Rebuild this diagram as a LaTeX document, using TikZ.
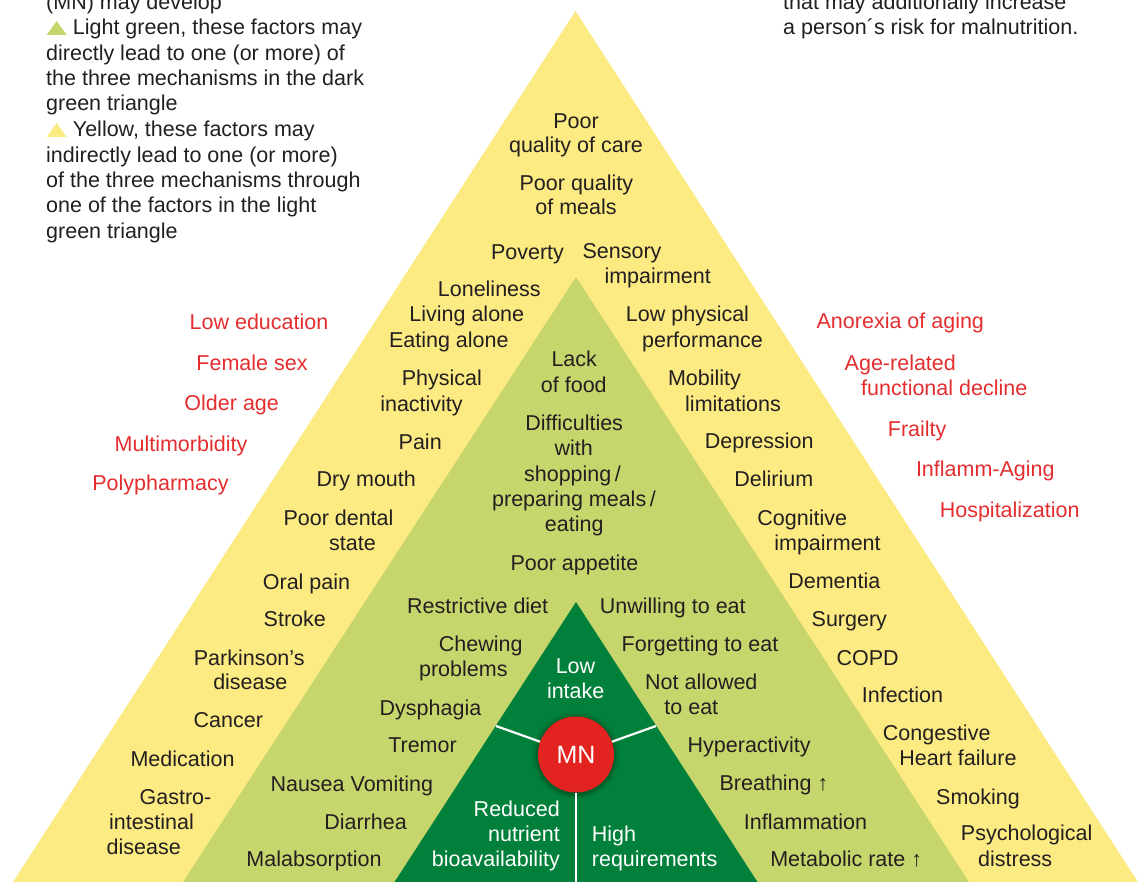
\documentclass[tikz,border=0pt]{standalone}
\usepackage{fontspec}
\setmainfont{Liberation Sans}
\definecolor{yel}{HTML}{FCEA82}
\definecolor{lgr}{HTML}{C6D66C}
\definecolor{dgr}{HTML}{00803A}
\definecolor{mnred}{HTML}{E3231F}
\definecolor{txt}{HTML}{231F20}
\definecolor{rtxt}{HTML}{E42D2E}
\newcommand\fs{\fontsize{21.5}{25.5}\selectfont}
\newcommand\lbl[5]{\node[#1] (#2) at (#3,#4) {#5};}
\tikzset{
  t/.style={font=\fs, text=txt, inner sep=0pt, anchor=base},
  tl/.style={t, anchor=base west},
  tr/.style={t, anchor=base east},
  rt/.style={t, text=rtxt},
  wt/.style={t, text=white},
  wtl/.style={tl, text=white},
  wtr/.style={tr, text=white},
  wline/.style={draw=white, line width=2.2pt},
}
\begin{document}
\begin{tikzpicture}[x=1pt,y=-1pt]
\useasboundingbox (0,0) rectangle (1137,882);
% triangles
\coordinate (ya) at (575.5,11);
\coordinate (yl) at (13,882);
\coordinate (yr) at (1138,882);
\coordinate (ga) at (576,277);
\coordinate (gl) at (183,882);
\coordinate (gr) at (969,882);
\coordinate (da) at (576,602);
\coordinate (dl) at (394.5,882);
\coordinate (dr) at (757.5,882);
\fill[yel] (ya) -- (yl) -- (yr) -- cycle;
\fill[lgr] (ga) -- (gl) -- (gr) -- cycle;
\fill[dgr] (da) -- (dl) -- (dr) -- cycle;
% legend triangles
\fill[lgr] (46.7,35) -- (66.7,35) -- (56.7,21) -- cycle;
\fill[yel] (46.7,137) -- (66.7,137) -- (56.7,123) -- cycle;
% Y lines and MN circle
\coordinate (wl) at (496,726);
\coordinate (wr) at (656,726);
\coordinate (wb) at (576,882);
\foreach \r/\o in {44/0.04,42/0.06,40.5/0.08,39.5/0.1}
  \fill[black,opacity=\o] (576,755.5) circle (\r);
\node[circle, fill=mnred, minimum size=76pt, inner sep=0pt, text=white,
      font=\fontsize{25}{28}\selectfont] (mn) at (576,754.5) {MN};
\draw[wline] (mn) -- (wl);
\draw[wline] (mn) -- (wr);
\draw[wline] (mn) -- (wb);
% legend left
\lbl{tl}{L1}{46}{10}{(MN) may develop}
\lbl{tl}{L2}{72.7}{35}{Light green, these factors may}
\lbl{tl}{L3}{46}{60.5}{directly lead to one (or more) of}
\lbl{tl}{L4}{46}{86}{the three mechanisms in the dark}
\lbl{tl}{L5}{46}{111}{green triangle}
\lbl{tl}{L6}{72.7}{137}{Yellow, these factors may}
\lbl{tl}{L7}{46}{162.5}{indirectly lead to one (or more)}
\lbl{tl}{L8}{46}{188}{of the three mechanisms through}
\lbl{tl}{L9}{46}{213}{one of the factors in the light}
\lbl{tl}{L10}{46}{238.7}{green triangle}
% legend right
\lbl{tl}{R1}{783}{10}{that may additionally increase}
\lbl{tl}{R2}{783}{35}{a person´s risk for malnutrition.}
% yellow triangle, top
\lbl{t}{y1}{576}{128.3}{Poor}
\lbl{t}{y2}{576}{152.7}{quality of care}
\lbl{t}{y3}{576.4}{191}{Poor quality}
\lbl{t}{y4}{576}{215}{of meals}
\lbl{t}{y5}{527.5}{259.3}{Poverty}
\lbl{t}{y6}{622}{259}{Sensory}
\lbl{t}{y7}{657.7}{283.3}{impairment}
\lbl{t}{y8}{489.3}{297}{Loneliness}
\lbl{t}{y9}{466.8}{321.7}{Living alone}
\lbl{t}{y10}{448.8}{347.7}{Eating alone}
\lbl{t}{y11}{687.5}{321.7}{Low physical}
\lbl{t}{y12}{702.5}{347.7}{performance}
\lbl{t}{y13}{441.8}{385.7}{Physical}
\lbl{t}{y14}{421.5}{411.7}{inactivity}
\lbl{t}{y15}{704.5}{385.7}{Mobility}
\lbl{t}{y16}{733}{411.7}{limitations}
\lbl{t}{y17}{420.2}{449}{Pain}
\lbl{t}{y18}{759.2}{448.3}{Depression}
\lbl{t}{y19}{366.3}{486.7}{Dry mouth}
\lbl{t}{y20}{773.8}{486}{Delirium}
\lbl{t}{y21}{338.5}{525}{Poor dental}
\lbl{t}{y22}{352.5}{550.7}{state}
\lbl{t}{y23}{802.2}{525}{Cognitive}
\lbl{t}{y24}{827.5}{550}{impairment}
\lbl{t}{y25}{306.5}{589}{Oral pain}
\lbl{t}{y26}{834.3}{588.3}{Dementia}
\lbl{t}{y27}{294.8}{626.7}{Stroke}
\lbl{t}{y28}{849.3}{626.7}{Surgery}
\lbl{t}{y29}{249.2}{665}{Parkinson’s}
\lbl{t}{y30}{250.3}{689.3}{disease}
\lbl{t}{y31}{867.7}{665}{COPD}
\lbl{t}{y32}{902.5}{702.7}{Infection}
\lbl{t}{y33}{228.3}{727.3}{Cancer}
\lbl{t}{y34}{936.7}{740.7}{Congestive}
\lbl{t}{y35}{958}{765}{Heart failure}
\lbl{t}{y36}{182.5}{766}{Medication}
\lbl{t}{y37}{175.5}{804}{Gastro-}
\lbl{t}{y38}{151.5}{829}{intestinal}
\lbl{t}{y39}{143.7}{854.3}{disease}
\lbl{t}{y40}{978}{804}{Smoking}
\lbl{t}{y41}{1026.7}{840.7}{Psychological}
\lbl{t}{y42}{1015.2}{866}{distress}
% light green triangle
\lbl{t}{g1}{574.2}{366.7}{Lack}
\lbl{t}{g2}{573.8}{392.7}{of food}
\lbl{t}{g3}{574.2}{430}{Difficulties}
\lbl{t}{g4}{573.8}{455}{with}
\lbl{t}{g5}{572.5}{481}{shopping\,/}
\lbl{t}{g6}{574}{506.7}{preparing meals\,/}
\lbl{t}{g7}{574.2}{531.7}{eating}
\lbl{t}{g8}{574.5}{570}{Poor appetite}
\lbl{t}{g9}{477.7}{613.3}{Restrictive diet}
\lbl{t}{g10}{672.8}{613.3}{Unwilling to eat}
\lbl{t}{g11}{480.7}{651.7}{Chewing}
\lbl{t}{g12}{463.3}{676.7}{problems}
\lbl{t}{g13}{700}{651.7}{Forgetting to eat}
\lbl{t}{g14}{701.3}{689}{Not allowed}
\lbl{t}{g15}{691.3}{714.3}{to eat}
\lbl{t}{g16}{430.5}{715}{Dysphagia}
\lbl{t}{g17}{422.5}{752.7}{Tremor}
\lbl{t}{g18}{749.2}{752.7}{Hyperactivity}
\lbl{t}{g19}{351.8}{791}{Nausea Vomiting}
\lbl{t}{g20}{774}{790}{Breathing ↑}
\lbl{t}{g21}{365.5}{829}{Diarrhea}
\lbl{t}{g22}{805.5}{829}{Inflammation}
\lbl{t}{g23}{314}{866}{Malabsorption}
\lbl{t}{g24}{846.2}{866}{Metabolic rate ↑}
% red risk factors
\lbl{rt}{r1}{259}{329.3}{Low education}
\lbl{rt}{r2}{252}{370}{Female sex}
\lbl{rt}{r3}{231.7}{410}{Older age}
\lbl{rt}{r4}{181}{451.7}{Multimorbidity}
\lbl{rt}{r5}{160.5}{490.7}{Polypharmacy}
\lbl{rt}{r6}{900.3}{329}{Anorexia of aging}
\lbl{rt}{r7}{900.3}{370}{Age-related}
\lbl{rt}{r8}{944.2}{395}{functional decline}
\lbl{rt}{r9}{917.2}{436.7}{Frailty}
\lbl{rt}{r10}{985.3}{476.7}{Inflamm-Aging}
\lbl{rt}{r11}{1009.7}{517.3}{Hospitalization}
% dark green triangle
\lbl{wt}{d1}{575.5}{673.3}{Low}
\lbl{wt}{d2}{575.7}{698.3}{intake}
\lbl{wtr}{d3}{560}{816.7}{Reduced}
\lbl{wtr}{d4}{560}{841.7}{nutrient}
\lbl{wtr}{d5}{560}{866.7}{bioavailability}
\lbl{wtl}{d6}{591.7}{841.7}{High}
\lbl{wtl}{d7}{591.7}{866.7}{requirements}
\end{tikzpicture}
\end{document}
